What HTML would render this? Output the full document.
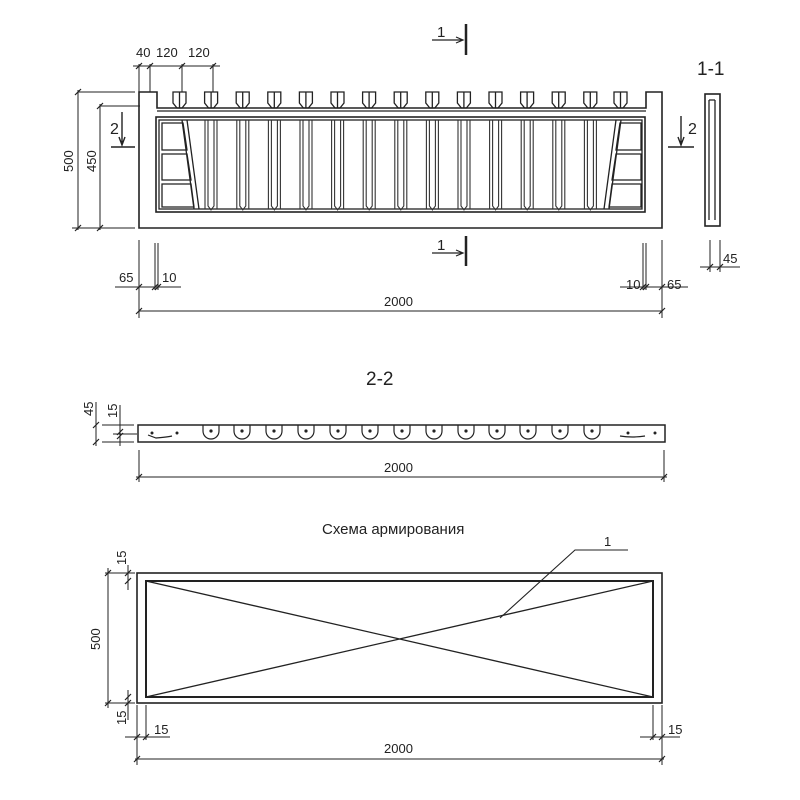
<!DOCTYPE html>
<html><head><meta charset="utf-8"><style>
html,body{margin:0;padding:0;background:#fff}
svg{display:block}
text{font-family:"Liberation Sans Narrow","Liberation Sans",sans-serif;fill:#222}
</style></head><body>
<svg width="800" height="800" viewBox="0 0 800 800" xmlns="http://www.w3.org/2000/svg">
<defs>
<g id="tooth"><path d="M0,0 V11 L4,16 H9 L13,11 V0 Z M6.5,0 V16" fill="none" stroke="#222" stroke-width="1.3"/></g>
<g id="rib"><path d="M-3,120 V206 L0,210 L3,206 V120 M-6,120 V209 M6,120 V209" fill="none" stroke="#333" stroke-width="1.1"/></g>
<g id="cup"><path d="M-8,0 V6 A8,8 0 0 0 8,6 V0" fill="none" stroke="#222" stroke-width="1.2"/><circle cx="0" cy="6" r="1.6" fill="#222"/></g>
<g id="tk"><path d="M-3,3 L3,-3" stroke="#222" stroke-width="1.2"/></g>
</defs>
<g stroke="#222" fill="none" stroke-width="1.3">
<!-- top panel -->
<path d="M139,228 V92 H157 V108 H646 V92 H662 V228 Z" stroke-width="1.6"/>
<path d="M157,111 H646"/>
<rect x="156" y="117" width="489" height="95" stroke-width="1.6"/>
<rect x="159" y="120" width="483" height="89"/>
</g>
<g>
<use href="#tooth" x="173" y="92"/><use href="#tooth" x="204.6" y="92"/><use href="#tooth" x="236.2" y="92"/><use href="#tooth" x="267.8" y="92"/><use href="#tooth" x="299.4" y="92"/><use href="#tooth" x="331" y="92"/><use href="#tooth" x="362.6" y="92"/><use href="#tooth" x="394.2" y="92"/><use href="#tooth" x="425.8" y="92"/><use href="#tooth" x="457.4" y="92"/><use href="#tooth" x="489" y="92"/><use href="#tooth" x="520.6" y="92"/><use href="#tooth" x="552.2" y="92"/><use href="#tooth" x="583.8" y="92"/><use href="#tooth" x="614" y="92"/>
<use href="#rib" x="211"/><use href="#rib" x="242.8"/><use href="#rib" x="274.4"/><use href="#rib" x="306"/><use href="#rib" x="337.6"/><use href="#rib" x="369.2"/><use href="#rib" x="400.8"/><use href="#rib" x="432.4"/><use href="#rib" x="464"/><use href="#rib" x="495.6"/><use href="#rib" x="527.2"/><use href="#rib" x="558.8"/><use href="#rib" x="590.4"/>
</g>
<g stroke="#222" fill="none" stroke-width="1.3">
<!-- left ladder -->
<path d="M182,120 L194,209 M187,120 L199,209"/>
<path d="M162,123 H183 L187,150 H162 Z M162,154 H187 L191,180 H162 Z M162,184 H191 L194,207 H162 Z"/>
<!-- right ladder -->
<path d="M621,120 L609,209 M616,120 L604,209"/>
<path d="M641,123 H620 L616,150 H641 Z M641,154 H616 L612,180 H641 Z M641,184 H612 L609,207 H641 Z"/>
<!-- section 1-1 -->
<rect x="705" y="94" width="15" height="132" stroke-width="1.6"/>
<path d="M709,100 V220 M715,100 V220 M709,100 H715"/>
<!-- dims top -->
<path d="M139,64 V92 M150,64 V92 M182,64 V92 M213,64 V92 M133,66 H220" stroke-width="1"/>
<path d="M78,92 H135 M72,228 H135 M78,90 V230 M100,106 H140 M100,104 V230" stroke-width="1"/>
<!-- section marks -->
<path d="M466,24 V55 M466,236 V266" stroke-width="2.5"/>
<path d="M432,40 H462 M456,37 L463,40 L456,43 M432,253 H462 M456,250 L463,253 L456,256" stroke-width="1.2"/>
<path d="M111,147 H135 M122,112 V144 M119,137 L122,145 L125,137 M668,147 H694 M681,116 V144 M678,137 L681,145 L684,137" stroke-width="1.4"/>
<!-- bottom dims -->
<path d="M139,240 V318 M155,243 V290 M158,243 V290 M115,287 H181 M139,311 H662 M646,243 V290 M643,243 V290 M662,240 V318 M620,287 H688" stroke-width="1"/>
<path d="M710,240 V272 M720,240 V272 M700,267 H740" stroke-width="1"/>
<!-- 2-2 -->
<rect x="138" y="425" width="527" height="17" stroke-width="1.5"/>
<path d="M102,425 H134 M102,442 H134 M96,402 V446 M120,405 V446 M113,434 H137 M139,450 V482 M664,450 V482 M136,477 H667" stroke-width="1"/>
<path d="M148,435 L156,438 Q168,437 172,436 M620,436 Q632,438 645,436" stroke-width="1.2"/>
<!-- scheme -->
<rect x="137" y="573" width="525" height="130" stroke-width="1.6"/>
<rect x="146" y="581" width="507" height="116" stroke-width="2"/>
<path d="M146,581 L653,697 M146,697 L653,581" stroke-width="1.3"/>
<path d="M500,618 L575,550 H628" stroke-width="1.1"/>
<path d="M105,573 H135 M105,703 H135 M108,568 V708 M128,565 V590 M128,690 V720 M137,705 V765 M146,705 V740 M125,737 H170 M662,705 V765 M653,705 V740 M640,737 H680 M135,759 H664" stroke-width="1"/>
</g>
<g>
<circle cx="152" cy="433" r="1.5" fill="#222"/><circle cx="177" cy="433" r="1.5" fill="#222"/><circle cx="628" cy="433" r="1.5" fill="#222"/><circle cx="655" cy="433" r="1.5" fill="#222"/>
<use href="#cup" x="211" y="425"/><use href="#cup" x="242" y="425"/><use href="#cup" x="274" y="425"/><use href="#cup" x="306" y="425"/><use href="#cup" x="338" y="425"/><use href="#cup" x="370" y="425"/><use href="#cup" x="402" y="425"/><use href="#cup" x="434" y="425"/><use href="#cup" x="466" y="425"/><use href="#cup" x="497" y="425"/><use href="#cup" x="528" y="425"/><use href="#cup" x="560" y="425"/><use href="#cup" x="592" y="425"/>
<use href="#tk" x="139" y="66"/><use href="#tk" x="150" y="66"/><use href="#tk" x="182" y="66"/><use href="#tk" x="213" y="66"/>
<use href="#tk" x="78" y="92"/><use href="#tk" x="78" y="228"/><use href="#tk" x="100" y="106"/><use href="#tk" x="100" y="228"/>
<use href="#tk" x="139" y="287"/><use href="#tk" x="155" y="287"/><use href="#tk" x="158" y="287"/><use href="#tk" x="139" y="311"/><use href="#tk" x="662" y="311"/><use href="#tk" x="643" y="287"/><use href="#tk" x="646" y="287"/><use href="#tk" x="662" y="287"/>
<use href="#tk" x="710" y="267"/><use href="#tk" x="720" y="267"/>
<use href="#tk" x="96" y="425"/><use href="#tk" x="96" y="442"/><use href="#tk" x="120" y="432"/><use href="#tk" x="120" y="436"/><use href="#tk" x="139" y="477"/><use href="#tk" x="664" y="477"/>
<use href="#tk" x="108" y="573"/><use href="#tk" x="108" y="703"/><use href="#tk" x="128" y="573"/><use href="#tk" x="128" y="581"/><use href="#tk" x="128" y="697"/><use href="#tk" x="128" y="703"/>
<use href="#tk" x="137" y="737"/><use href="#tk" x="146" y="737"/><use href="#tk" x="653" y="737"/><use href="#tk" x="662" y="737"/><use href="#tk" x="137" y="759"/><use href="#tk" x="662" y="759"/>
</g>
<g font-size="13">
<text x="136" y="57">40</text><text x="156" y="57">120</text><text x="188" y="57">120</text>
<text transform="translate(73,172) rotate(-90)">500</text>
<text transform="translate(96,172) rotate(-90)">450</text>
<text x="437" y="37" font-size="15">1</text><text x="437" y="250" font-size="15">1</text>
<text x="110" y="134" font-size="16">2</text><text x="688" y="134" font-size="16">2</text>
<text x="697" y="75" font-size="19">1-1</text>
<text x="119" y="282">65</text><text x="162" y="282">10</text>
<text x="626" y="289">10</text><text x="667" y="289">65</text>
<text x="723" y="263">45</text>
<text x="384" y="306">2000</text>
<text x="366" y="385" font-size="19">2-2</text>
<text transform="translate(93,416) rotate(-90)">45</text>
<text transform="translate(117,418) rotate(-90)">15</text>
<text x="384" y="472">2000</text>
<text x="322" y="534" font-size="15">Схема армирования</text>
<text x="604" y="546" font-size="13">1</text>
<text transform="translate(126,565) rotate(-90)">15</text>
<text transform="translate(100,650) rotate(-90)">500</text>
<text transform="translate(126,725) rotate(-90)">15</text>
<text x="154" y="734">15</text><text x="668" y="734">15</text>
<text x="384" y="753">2000</text>
</g>
</svg>
</body></html>
